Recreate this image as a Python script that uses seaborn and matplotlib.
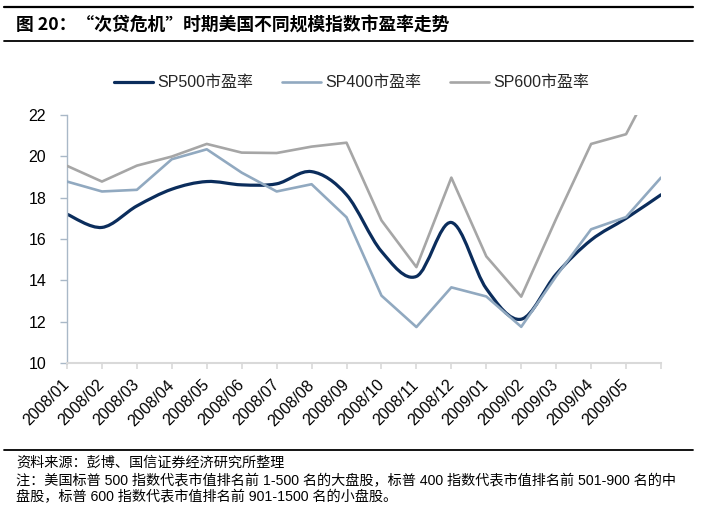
import numpy as np
import pandas as pd
import matplotlib
matplotlib.use("Agg")
import matplotlib.pyplot as plt
import seaborn as sns
from matplotlib.path import Path
from matplotlib.patches import PathPatch
from matplotlib.lines import Line2D

# ---------------- data ----------------
tick_labels = ["2008/01", "2008/02", "2008/03", "2008/04", "2008/05", "2008/06",
               "2008/07", "2008/08", "2008/09", "2008/10", "2008/11", "2008/12",
               "2009/01", "2009/02", "2009/03", "2009/04", "2009/05", ""]
sp500 = [17.2, 16.56, 17.6, 18.41, 18.78, 18.62, 18.67, 19.26, 18.14, 15.4,
         14.19, 16.8, 13.6, 12.12, 14.3, 15.95, 17.0, 18.14]
sp400 = [18.78, 18.30, 18.38, 19.86, 20.34, 19.21, 18.30, 18.65, 17.05, 13.26,
         11.74, 13.66, 13.22, 11.75, 14.2, 16.47, 17.06, 18.97]
sp600 = [19.54, 18.78, 19.55, 19.99, 20.6, 20.18, 20.16, 20.47, 20.66, 16.9,
         14.64, 18.97, 15.16, 13.21, 16.98, 20.6, 21.07, 24.3]
series_names = ["SP500市盈率", "SP400市盈率", "SP600市盈率"]
y_ticks = [10, 12, 14, 16, 18, 20, 22]

title = "图 20：“次贷危机”时期美国不同规模指数市盈率走势"
source = "资料来源：彭博、国信证券经济研究所整理"
note1 = "注：美国标普 500 指数代表市值排名前 1-500 名的大盘股，标普 400 指数代表市值排名前 501-900 名的中"
note2 = "盘股，标普 600 指数代表市值排名前 901-1500 名的小盘股。"

colors = {series_names[0]: "#0B2D5C", series_names[1]: "#91A9C0", series_names[2]: "#A6A6A6"}

# ---------------- style ----------------
sns.set_theme(style="white")
plt.rcParams['font.family'] = ['Liberation Sans', 'Noto Sans CJK SC', 'DejaVu Sans']

W, H = 701, 509
fig = plt.figure(figsize=(W / 100, H / 100), dpi=100)
ax = fig.add_axes([67 / W, 1 - 363 / H, (661 - 67) / W, (363 - 115) / H])

n = len(sp500)
x = np.arange(n)
df = pd.DataFrame({
    "x": np.concatenate([x, x]),
    "pe": sp400 + sp600,
    "series": [series_names[1]] * n + [series_names[2]] * n,
})
sns.lineplot(data=df, x="x", y="pe", hue="series", palette=colors,
             linewidth=1.9, ax=ax, legend=False, zorder=3)

# smoothed SP500 line (Bezier path through the data points, as Excel smoothing)
pts = np.column_stack([x, sp500]).astype(float)
verts = [tuple(pts[0])]
codes = [Path.MOVETO]
for i in range(n - 1):
    p_prev = pts[i - 1] if i > 0 else pts[i]
    p_next2 = pts[i + 2] if i + 2 < n else pts[i + 1]
    c1 = pts[i] + (pts[i + 1] - p_prev) / 6.0
    c2 = pts[i + 1] - (p_next2 - pts[i]) / 6.0
    verts += [tuple(c1), tuple(c2), tuple(pts[i + 1])]
    codes += [Path.CURVE4] * 3
ax.add_patch(PathPatch(Path(verts, codes), facecolor="none",
                       edgecolor=colors[series_names[0]], lw=2.3, zorder=2,
                       capstyle="round", joinstyle="round"))

ax.set_xlim(0, n - 1)
ax.set_ylim(10, 22)
ax.set_yticks(y_ticks)
ax.set_xticks(x)
ax.set_xticklabels(tick_labels)
ax.set_xlabel("")
ax.set_ylabel("")

for s in ["top", "right"]:
    ax.spines[s].set_visible(False)
ax.spines["bottom"].set_color("#D9D9D9")
ax.spines["bottom"].set_linewidth(1.5)
ax.spines["left"].set_color("#A9B8C7")
ax.spines["left"].set_linewidth(1.0)

ax.tick_params(axis="x", bottom=True, length=4, width=1.2, color="#D9D9D9",
               pad=10, labelsize=11.5, labelcolor="black")
ax.tick_params(axis="y", left=True, length=5, width=1.0, color="#A9B8C7",
               pad=10, labelsize=11.5, labelcolor="black")
for lbl in ax.get_xticklabels():
    lbl.set_rotation(45)
    lbl.set_ha("right")
    lbl.set_va("center")
    lbl.set_rotation_mode("anchor")

# legend
handles = [Line2D([], [], color=colors[s], lw=2.3 if i == 0 else 1.9)
           for i, s in enumerate(series_names)]
fig.legend(handles, series_names, loc="center", bbox_to_anchor=(352 / W, 1 - 83 / H),
           ncol=3, frameon=False, fontsize=11.5, handlelength=2.4,
           handletextpad=0.3, columnspacing=1.8)

# title and rules
fig.text(16 / W, 1 - 25 / H, title, ha="left", va="center", fontsize=12.8,
         fontweight="bold", family=['Noto Sans CJK SC', 'DejaVu Sans'], color="black")
for yy, lw in [(7, 1.6), (41, 1.3), (450, 1.3)]:
    fig.add_artist(Line2D([4 / W, 693 / W], [1 - yy / H] * 2, color="black",
                          lw=lw, transform=fig.transFigure))

# footnotes
for yy, txt in [(463, source), (481, note1), (497, note2)]:
    fig.text(16 / W, 1 - yy / H, txt, ha="left", va="center", fontsize=10.2,
             color="black")

fig.savefig("out.png", dpi=100)
